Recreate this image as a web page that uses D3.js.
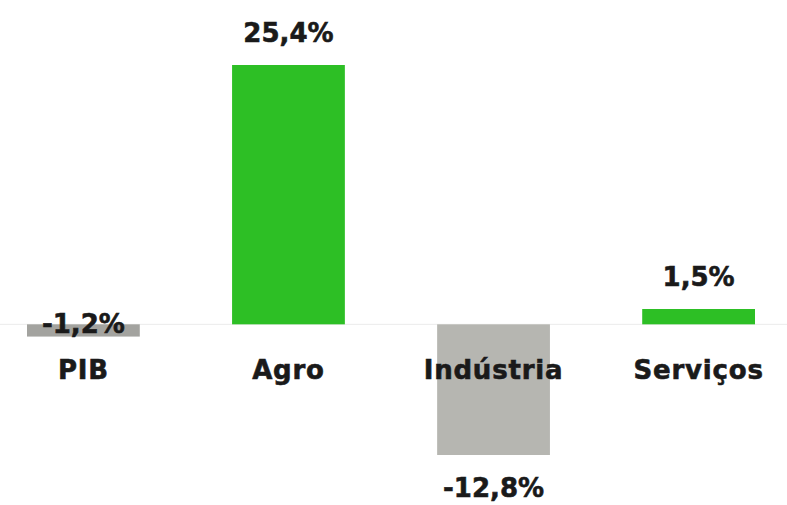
<!DOCTYPE html>
<html>
<head>
<meta charset="utf-8">
<script src="https://cdn.jsdelivr.net/npm/d3@7"></script>
<style>
  body { margin: 0; background: #fff; }
  text { font-family: "DejaVu Sans", Inter, sans-serif; font-weight: bold; fill: #1a1a1a; stroke: #1a1a1a; stroke-width: 0.6; }
</style>
</head>
<body>
<div id="svg-area"></div>
<script>
var svgWidth = 787;
var svgHeight = 505;

// data
var categories = ["PIB", "Agro", "Indústria", "Serviços"];
var values = [-1.2, 25.4, -12.8, 1.5];
var valueLabels = ["-1,2%", "25,4%", "-12,8%", "1,5%"];
var barColors = ["#a3a39f", "#2dbf25", "#b6b6b1", "#2dbf25"];

var svg = d3.select("#svg-area")
  .append("svg")
  .attr("width", svgWidth)
  .attr("height", svgHeight);

// x scale for the categories
var xScale = d3.scaleBand()
  .domain(categories)
  .range([27, 755])
  .paddingInner(0.45)
  .paddingOuter(0);

// y scale
var yScale = d3.scaleLinear()
  .domain([-12.8, 25.4])
  .range([455, 65]);

var y0 = yScale(0);

// zero line
svg.append("line")
  .attr("x1", 0)
  .attr("x2", svgWidth)
  .attr("y1", y0)
  .attr("y2", y0)
  .attr("stroke", "#ebebeb")
  .attr("stroke-width", 1);

// bars
svg.selectAll(".bar")
  .data(categories)
  .enter()
  .append("rect")
  .attr("class", "bar")
  .attr("x", d => xScale(d))
  .attr("width", xScale.bandwidth())
  .attr("y", (d, i) => Math.min(yScale(values[i]), y0))
  .attr("height", (d, i) => Math.abs(yScale(values[i]) - y0))
  .attr("fill", (d, i) => barColors[i]);

// category labels
svg.selectAll(".cat")
  .data(categories)
  .enter()
  .append("text")
  .attr("class", "cat")
  .attr("x", d => xScale(d) + xScale.bandwidth() / 2)
  .attr("y", y0 + 55)
  .attr("text-anchor", "middle")
  .attr("font-size", 26)
  .attr("letter-spacing", 0.8)
  .text(d => d);

// value labels
svg.selectAll(".val")
  .data(categories)
  .enter()
  .append("text")
  .attr("class", "val")
  .attr("x", d => xScale(d) + xScale.bandwidth() / 2)
  .attr("y", function(d, i) {
    var v = values[i];
    var yv = yScale(v);
    if (v >= 0) return yv - 23;
    if (Math.abs(yv - y0) < 30) return y0 + 9; // small negative: label sits on the line
    return yv + 42;
  })
  .attr("text-anchor", "middle")
  .attr("font-size", 26)
  .text((d, i) => valueLabels[i]);
</script>
</body>
</html>
